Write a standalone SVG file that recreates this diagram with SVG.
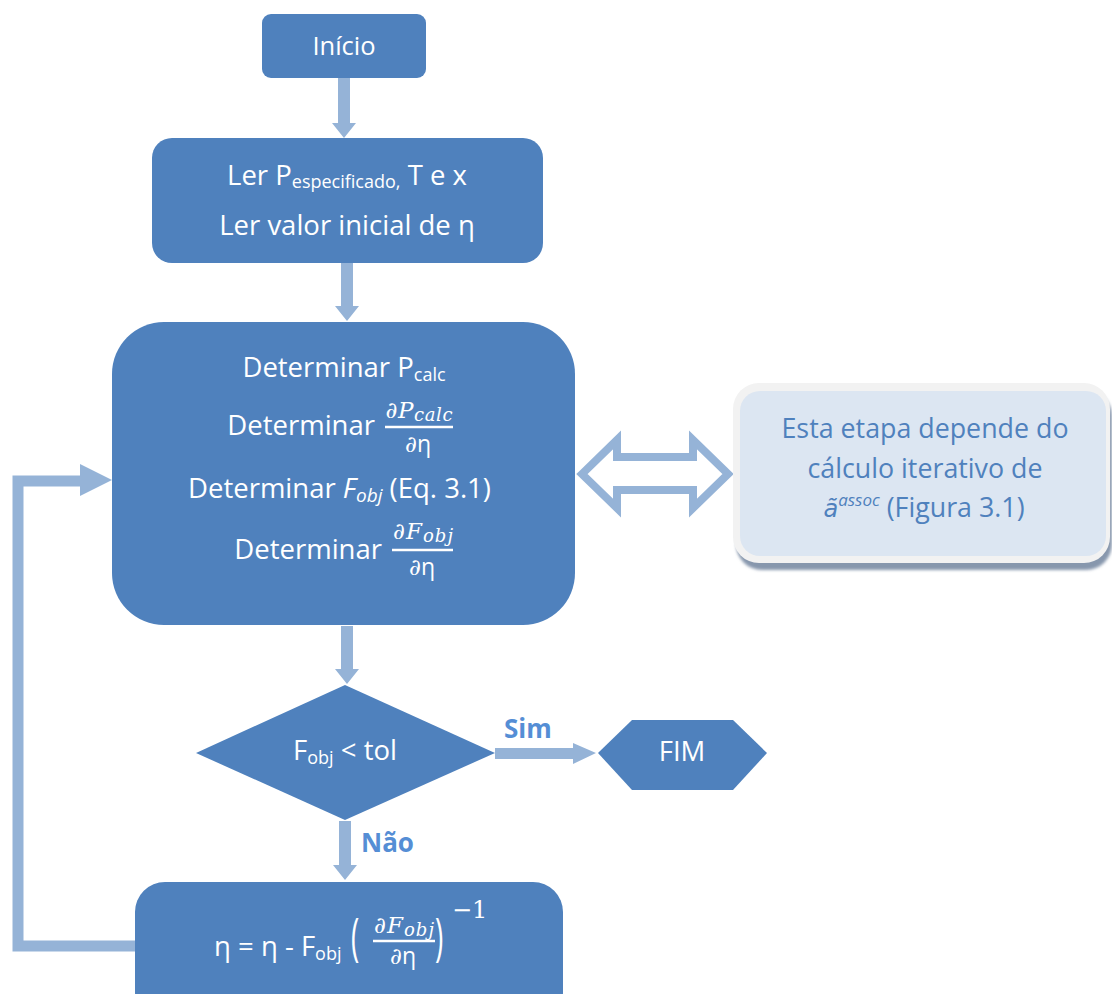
<svg xmlns="http://www.w3.org/2000/svg" width="1112" height="994" viewBox="0 0 1112 994">
<defs>
<style>
.box{fill:#4f81bd}
.arr{fill:#95b3d7}
.t{font-family:"Open Sans","Noto Sans",sans-serif;fill:#ffffff;font-size:27.5px}
.m{font-family:"DejaVu Serif","Liberation Serif",serif;font-style:italic;fill:#ffffff;font-size:23px}
.lbl{font-family:"Open Sans","Noto Sans",sans-serif;fill:#558ed5;font-size:26px;font-weight:bold}
.nt{font-family:"Open Sans","Noto Sans",sans-serif;fill:#4f81bd;font-size:26.8px}
.fl{stroke:#ffffff;stroke-width:2.5}
</style>
<filter id="sh" x="-5%" y="-5%" width="110%" height="115%"><feGaussianBlur stdDeviation="1.5"/></filter>
</defs>
<rect width="1112" height="994" fill="#ffffff"/>

<g id="connectors">
<polygon class="arr" points="338,78 350,78 350,123 356,123 344,138 332,123 338,123"/>
<polygon class="arr" points="341,263 353,263 353,306 359,306 347,321 335,306 341,306"/>
<polygon class="arr" points="341,626 353,626 353,669 359,669 347,684 335,669 341,669"/>
<polygon class="arr" points="339,821 351,821 351,865 357,865 345,880 333,865 339,865"/>
<polygon class="arr" points="495,748 573,748 573,743 596,753 573,764 573,759 495,759"/>
<polyline points="135,946 18,946 18,481 82,481" fill="none" stroke="#95b3d7" stroke-width="11"/>
<polygon class="arr" points="80,464 112,480 80,496"/>
<polygon points="582,474 617,440 617,457 693,457 693,440 728,474 693,508 693,490 617,490 617,508" fill="#ffffff" stroke="#95b3d7" stroke-width="8" stroke-linejoin="miter"/>
<text class="lbl" x="504" y="738">Sim</text>
<text class="lbl" x="361" y="852">Não</text>
</g>

<g id="inicio">
<rect class="box" x="262" y="14" width="164" height="64" rx="9"/>
<text class="t" x="344" y="55" text-anchor="middle" style="font-size:25.5px">Início</text>
</g>

<g id="ler">
<rect class="box" x="152" y="138" width="391" height="125" rx="20"/>
<text class="t" x="347" y="185" text-anchor="middle">Ler P<tspan font-size="18" dy="3">especificado,</tspan><tspan dy="-3"> T e x</tspan></text>
<text class="t" x="347" y="235" text-anchor="middle">Ler valor inicial de η</text>
</g>

<g id="determinar">
<rect class="box" x="112" y="322" width="463" height="303" rx="52"/>
<text class="t" x="344" y="377" text-anchor="middle">Determinar P<tspan font-size="18" dy="4">calc</tspan></text>
<text class="t" x="375" y="435" text-anchor="end">Determinar</text>
<text class="m" x="419" y="418" text-anchor="middle" textLength="67" lengthAdjust="spacing">∂P<tspan font-size="18" dy="3">calc</tspan></text>
<line class="fl" x1="385" y1="427" x2="453" y2="427"/>
<text class="m" x="418" y="452" text-anchor="middle">∂<tspan style="font-style:normal;font-family:'Open Sans',sans-serif">η</tspan></text>
<text class="t" x="188" y="498">Determinar <tspan font-style="italic">F</tspan><tspan font-size="19" font-style="italic" dy="4">obj</tspan><tspan dy="-4"> (Eq. 3.1)</tspan></text>
<text class="t" x="382" y="559" text-anchor="end">Determinar</text>
<text class="m" x="423" y="539" text-anchor="middle" textLength="60" lengthAdjust="spacing">∂F<tspan font-size="18" dy="3">obj</tspan></text>
<line class="fl" x1="392" y1="550" x2="453" y2="550"/>
<text class="m" x="422" y="575" text-anchor="middle">∂<tspan style="font-style:normal;font-family:'Open Sans',sans-serif">η</tspan></text>
</g>

<g id="nota">
<rect x="736" y="390" width="376" height="180" rx="26" fill="#8797ad" filter="url(#sh)"/>
<rect x="733" y="383" width="377" height="180" rx="26" fill="#f2f2f2"/>
<rect x="740" y="391" width="366" height="165" rx="20" fill="#dce6f2"/>
<text class="nt" x="925" y="438" text-anchor="middle">Esta etapa depende do</text>
<text class="nt" x="925" y="478" text-anchor="middle">cálculo iterativo de</text>
<text class="nt" x="924" y="517" text-anchor="middle"><tspan style="font-style:italic;font-family:'DejaVu Sans',sans-serif" font-size="24">ã</tspan><tspan font-style="italic" font-size="17" dy="-11">assoc</tspan><tspan dy="11"> (Figura 3.1)</tspan></text>
</g>

<g id="decisao">
<polygon class="box" points="345,685 495,753 345,820 196,753"/>
<text class="t" x="345" y="760" text-anchor="middle">F<tspan font-size="18" dy="4">obj</tspan><tspan dy="-4"> &lt; tol</tspan></text>
</g>

<g id="fim">
<polygon class="box" points="598,753 632,720 733,720 767,753 733,790 632,790"/>
<text class="t" x="682" y="761" text-anchor="middle">FIM</text>
</g>

<g id="atualizar">
<rect class="box" x="135" y="882" width="428" height="140" rx="30"/>
<text class="t" x="214" y="956">η = η - F<tspan font-size="18" dy="4">obj</tspan></text>
<text class="t" transform="translate(351,955) scale(0.7,1.3)" style="font-size:40px">(</text>
<text class="m" x="404" y="933" text-anchor="middle" textLength="60" lengthAdjust="spacing">∂F<tspan font-size="18" dy="3">obj</tspan></text>
<line class="fl" x1="373" y1="941" x2="435" y2="941"/>
<text class="m" x="403" y="964" text-anchor="middle">∂<tspan style="font-style:normal;font-family:'Open Sans',sans-serif">η</tspan></text>
<text class="t" transform="translate(435,955) scale(0.7,1.3)" style="font-size:40px">)</text>
<text class="m" x="452" y="918" style="font-style:normal;font-size:24px">−1</text>
</g>
</svg>
